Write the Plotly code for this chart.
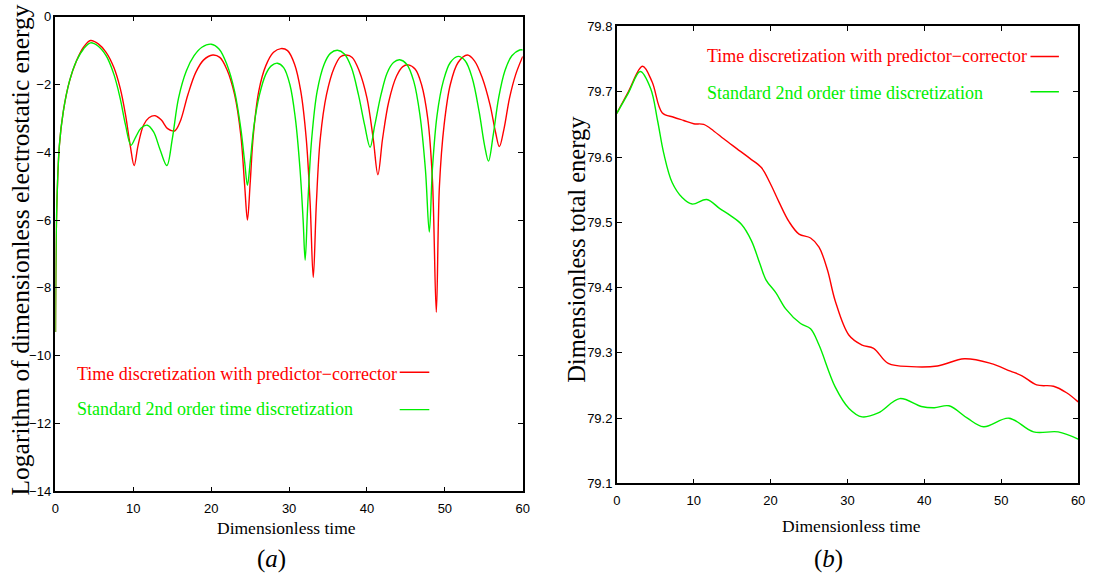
import plotly.graph_objects as go

# ---------------- data: panel (a) ----------------
t_a_red = [0, 0.15, 0.5, 1.0, 1.8, 2.7, 3.6, 4.5, 5.5, 6.5, 7.5, 8.3, 9.0, 9.6, 10.1, 10.6,
           11.3, 12.0, 12.8, 13.6, 14.4, 15.3, 16.0, 17.0, 18.0, 19.0, 20.2, 21.1, 22.0,
           23.0, 23.8, 24.3, 24.65, 25.0, 25.4, 26.1, 27.0, 28.0, 28.95, 29.8, 30.7, 31.5,
           32.2, 32.7, 33.1, 33.5, 34.0, 34.8, 35.8, 36.6, 37.3, 38.1, 39.0, 40.0, 40.8,
           41.4, 42.0, 42.8, 43.8, 44.6, 45.3, 46.2, 47.0, 47.8, 48.4, 48.9, 49.3, 49.9,
           50.7, 51.7, 52.9, 53.8, 54.8, 55.8, 56.5, 57.0, 57.6, 58.3, 59.1, 60]
e_a_red = [-9.3, -5.8, -3.8, -2.8, -1.9, -1.3, -0.9, -0.7, -0.8, -1.05, -1.5, -2.1, -2.9,
           -3.8, -4.39, -3.8, -3.2, -2.98, -2.92, -3.05, -3.3, -3.37, -3.1, -2.3, -1.65,
           -1.28, -1.13, -1.2, -1.55, -2.3, -3.5, -5.0, -6.0, -4.9, -3.5, -2.2, -1.45,
           -1.05, -0.94, -1.0, -1.4, -2.2, -3.6, -5.5, -7.69, -5.5, -3.6, -2.3, -1.5,
           -1.18, -1.13, -1.2, -1.6, -2.4, -3.6, -4.66, -3.6, -2.5, -1.75, -1.47, -1.42,
           -1.55, -2.0, -3.0, -4.8, -8.72, -5.0, -3.2, -2.0, -1.35, -1.13, -1.3, -1.8,
           -2.6, -3.4, -3.83, -3.3, -2.4, -1.7, -1.17]

t_a_green = [0, 0.15, 0.5, 1.0, 1.8, 2.7, 3.6, 4.5, 5.5, 6.5, 7.5, 8.3, 9.0, 9.7, 10.3, 11.0,
             11.8, 12.6, 13.4, 14.3, 15.0, 15.8, 16.8, 17.8, 18.8, 20.0, 21.0, 22.0, 23.0,
             23.8, 24.3, 24.65, 25.0, 25.5, 26.2, 27.0, 27.7, 28.5, 29.3, 30.1, 30.8, 31.4,
             31.8, 32.06, 32.4, 32.9, 33.6, 34.5, 35.3, 36.2, 37.1, 38.0, 38.9, 39.7, 40.4,
             41.0, 41.8, 42.6, 43.4, 44.2, 45.1, 46.0, 46.8, 47.5, 48.0, 48.4, 49.0, 49.8,
             50.7, 51.7, 52.6, 53.5, 54.4, 55.1, 55.6, 56.2, 56.9, 57.7, 58.6, 59.6, 60]
e_a_green = [-9.3, -5.8, -3.8, -2.8, -1.9, -1.3, -0.95, -0.77, -0.87, -1.15, -1.7, -2.4,
             -3.2, -3.79, -3.55, -3.28, -3.2, -3.4, -3.9, -4.39, -3.6, -2.4, -1.6, -1.15,
             -0.9, -0.81, -0.95, -1.4, -2.2, -3.3, -4.3, -4.97, -4.3, -3.2, -2.3, -1.7,
             -1.45, -1.37, -1.5, -2.0, -3.0, -4.5, -6.0, -7.18, -5.5, -3.6, -2.2, -1.4,
             -1.08, -0.99, -1.1, -1.5, -2.3, -3.2, -3.85, -3.2, -2.3, -1.65, -1.35, -1.27,
             -1.4, -1.9, -2.9, -4.5, -6.35, -4.5, -2.9, -1.9, -1.35, -1.17, -1.3, -1.8,
             -2.8, -3.8, -4.26, -3.5, -2.4, -1.6, -1.15, -0.98, -0.98]

# ---------------- data: panel (b) ----------------
t_b_red = [0, 1.5, 3.35, 4.6, 5.9, 7.4, 8.7, 10.0, 11.3, 12.6, 13.9, 15.6, 17.3, 18.8, 19.9,
           21.1, 22.4, 23.7, 25.2, 26.3, 27.4, 28.4, 30.2, 31.9, 33.4, 35.3, 38.3, 41.7,
           45.2, 48.6, 51.2, 52.7, 54.6, 56.8, 58.5, 60]
e_b_red = [79.667, 79.700, 79.739, 79.715, 79.668, 79.661, 79.656, 79.651, 79.650, 79.640,
           79.628, 79.613, 79.598, 79.584, 79.561, 79.531, 79.501, 79.482, 79.476, 79.462,
           79.427, 79.380, 79.327, 79.312, 79.307, 79.284, 79.279, 79.280, 79.291, 79.284,
           79.272, 79.265, 79.251, 79.249, 79.239, 79.225]

t_b_green = [0, 1.5, 3.05, 4.4, 5.3, 6.1, 7.2, 8.5, 9.8, 11.7, 13.4, 14.7, 16.2, 17.5, 18.6,
             19.4, 20.7, 22.0, 23.9, 25.2, 26.3, 28.4, 30.2, 31.9, 34.0, 36.8, 39.6, 41.3,
             43.2, 45.6, 47.7, 51.0, 54.2, 57.4, 60]
e_b_green = [79.667, 79.698, 79.731, 79.705, 79.656, 79.606, 79.561, 79.538, 79.528, 79.535,
             79.521, 79.511, 79.497, 79.472, 79.437, 79.412, 79.392, 79.367, 79.345, 79.337,
             79.312, 79.248, 79.215, 79.202, 79.208, 79.230, 79.218, 79.216, 79.219, 79.200,
             79.187, 79.200, 79.179, 79.179, 79.168]

label_red = "Time discretization with predictor\u2212corrector"
label_green = "Standard 2nd order time discretization"

RED = "#ff0000"
GREEN = "#00ee00"
W, H = 1098, 586
SERIF = "Liberation Serif, Times New Roman, serif"
TICKF = "Liberation Sans Narrow, Arial Narrow, Liberation Sans, sans-serif"

def px(x):
    return x / W

def py(y):
    return 1 - y / H

fig = go.Figure()
line_kw = dict(shape="spline", smoothing=1.0, width=1.4)
fig.add_trace(go.Scatter(x=t_a_red, y=e_a_red, mode="lines", line=dict(color=RED, **line_kw),
                         xaxis="x", yaxis="y", showlegend=False))
fig.add_trace(go.Scatter(x=t_a_green, y=e_a_green, mode="lines", line=dict(color=GREEN, **line_kw),
                         xaxis="x", yaxis="y", showlegend=False))
fig.add_trace(go.Scatter(x=t_b_red, y=e_b_red, mode="lines", line=dict(color=RED, **line_kw),
                         xaxis="x2", yaxis="y2", showlegend=False))
fig.add_trace(go.Scatter(x=t_b_green, y=e_b_green, mode="lines", line=dict(color=GREEN, **line_kw),
                         xaxis="x2", yaxis="y2", showlegend=False))

axis_common = dict(showgrid=False, zeroline=False, showline=True, linecolor="black",
                   linewidth=1.5, mirror="ticks", ticks="inside", ticklen=5, tickwidth=1,
                   tickcolor="black", tickfont=dict(family=TICKF, size=13, color="black"))

fig.update_layout(
    width=W, height=H, autosize=False,
    margin=dict(l=0, r=0, t=0, b=0),
    paper_bgcolor="white", plot_bgcolor="white",
    xaxis=dict(domain=[px(52), px(524)], range=[0, 60], dtick=10, anchor="y",
               ticklabelstandoff=4, **axis_common),
    yaxis=dict(domain=[py(497), py(10)], range=[-14, 0], dtick=2, anchor="x", **axis_common),
    xaxis2=dict(domain=[px(619), px(1085)], range=[0, 60], dtick=10, anchor="y2",
                ticklabelstandoff=4, **axis_common),
    yaxis2=dict(domain=[py(489), py(20)], range=[79.1, 79.8], dtick=0.1, tickformat=".1f",
                anchor="x2", **axis_common),
)

ann = []
def text(x, y, s, size, color="black", angle=0, xanchor="center"):
    ann.append(dict(x=px(x), y=py(y), xref="paper", yref="paper", text=s, showarrow=False,
                    textangle=angle, xanchor=xanchor, yanchor="middle",
                    font=dict(family=SERIF, size=size, color=color)))

# axis titles
text(285, 535, "Dimensionless time", 17.5)
text(856, 533, "Dimensionless time", 17.5)
text(17, 249, "Logarithm of dimensionless electrostatic energy", 25.5, angle=-90)
text(578, 249, "Dimensionless total energy", 24.5, angle=-90)
# captions
text(270, 566, "(<i>a</i>)", 25)
text(833, 566, "(<i>b</i>)", 25)
# legends
text(72, 377, label_red, 18, color=RED, xanchor="left")
text(72, 413, label_green, 18, color=GREEN, xanchor="left")
text(708, 50, label_red, 18, color=RED, xanchor="left")
text(708, 88, label_green, 18, color=GREEN, xanchor="left")
fig.update_layout(annotations=ann)

# legend line samples (in data coordinates)
shapes = [
    dict(type="line", xref="x", yref="y", x0=44.2, x1=48.0, y0=-10.49, y1=-10.49,
         line=dict(color=RED, width=1.4)),
    dict(type="line", xref="x", yref="y", x0=44.2, x1=48.0, y0=-11.59, y1=-11.59,
         line=dict(color=GREEN, width=1.4)),
    dict(type="line", xref="x2", yref="y2", x0=53.8, x1=57.5, y0=79.754, y1=79.754,
         line=dict(color=RED, width=1.4)),
    dict(type="line", xref="x2", yref="y2", x0=53.8, x1=57.5, y0=79.700, y1=79.700,
         line=dict(color=GREEN, width=1.4)),
]
fig.update_layout(shapes=shapes)

fig.write_html("out.html")
